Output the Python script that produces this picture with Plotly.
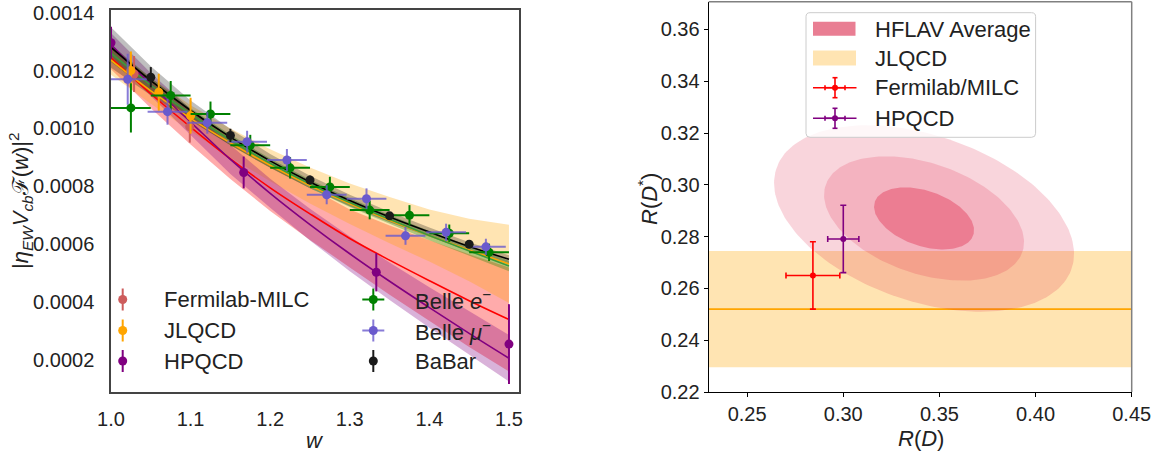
import numpy as np
import plotly.graph_objects as go

W, H = 1164, 453
FONT = "Liberation Sans, Arial, sans-serif"
FS = 22
TFS = 20

# ---------------- Left panel data ----------------
w_grid = [1.00, 1.05, 1.10, 1.15, 1.20, 1.25, 1.30, 1.35, 1.40, 1.45, 1.50]

fnal_fit = [0.001245, 0.00112, 0.001005, 0.000895, 0.000795, 0.000705, 0.000620, 0.000545, 0.000474, 0.000405, 0.000340]
fnal_err = [0.00004, 0.00005, 0.00006, 0.00007, 0.00008, 0.00009, 0.00010, 0.00012, 0.00014, 0.00016, 0.00018]

jlqcd_fit = [0.001236, 0.00113, 0.001035, 0.00095, 0.000873, 0.000803, 0.00074, 0.000683, 0.00063, 0.00058, 0.000532]
jlqcd_err = [0.00005, 0.000045, 0.000045, 0.00005, 0.000055, 0.000062, 0.00007, 0.00008, 0.00009, 0.000108, 0.000135]

hpqcd_fit = [0.00129, 0.001152, 0.001022, 0.000893, 0.000776, 0.000668, 0.000567, 0.000472, 0.000381, 0.000292, 0.000206]
hpqcd_err = [0.00004, 0.00004, 0.000045, 0.00005, 0.00005, 0.000055, 0.00006, 0.000065, 0.00007, 0.000075, 0.00008]

belle_fit = [0.00126, 0.00115, 0.00105, 0.00096, 0.00088, 0.000808, 0.000744, 0.000686, 0.00063, 0.000577, 0.000525]
belle_fit_err = [0.00003, 0.000025, 0.00002, 0.000018, 0.000016, 0.000015, 0.000015, 0.000015, 0.000016, 0.000017, 0.000018]

babar_fit = [0.00128, 0.001165, 0.001062, 0.00097, 0.000888, 0.000815, 0.000751, 0.000694, 0.000642, 0.000592, 0.000548]
babar_fit_err = [0.00007, 0.00005, 0.000035, 0.000028, 0.000024, 0.000022, 0.00002, 0.000018, 0.000016, 0.000015, 0.000014]

fnal_w = [1.029, 1.099]
fnal_v = [0.001188, 0.001006]
fnal_dv = [0.000062, 0.000055]

jlqcd_w = [1.025, 1.060, 1.100]
jlqcd_v = [0.00120, 0.001125, 0.001044]
jlqcd_dv = [0.000066, 0.000064, 0.000062]

hpqcd_w = [1.0, 1.1667, 1.3333, 1.5]
hpqcd_v = [0.001296, 0.000848, 0.000503, 0.000255]
hpqcd_dv = [0.000055, 0.000055, 0.000066, 0.000138]

belle_e_w = [1.025, 1.075, 1.125, 1.175, 1.225, 1.275, 1.325, 1.375, 1.425, 1.475]
belle_e_v = [0.001071, 0.001114, 0.00105, 0.000942, 0.000864, 0.000798, 0.000718, 0.0007, 0.000638, 0.000572]
belle_e_dv = [0.000085, 0.00005, 0.000043, 0.000036, 0.000037, 0.000035, 0.000032, 0.000035, 0.00003, 0.00003]

belle_mu_w = [1.021, 1.071, 1.121, 1.171, 1.221, 1.271, 1.321, 1.370, 1.421, 1.471]
belle_mu_v = [0.00117, 0.001058, 0.00102, 0.000954, 0.000891, 0.000771, 0.000757, 0.000629, 0.000641, 0.000591]
belle_mu_dv = [0.000088, 0.000045, 0.000038, 0.000038, 0.000038, 0.000033, 0.000036, 0.000031, 0.00003, 0.000028]
belle_dw = 0.025

babar_w = [1.05, 1.15, 1.25, 1.35, 1.45]
babar_v = [0.001177, 0.000976, 0.000822, 0.000698, 0.0006]
babar_dv = [0.000035, 0.000023, 0.000015, 0.000013, 0.000012]

w_ticks = [1.0, 1.1, 1.2, 1.3, 1.4, 1.5]
v_ticks = [0.0002, 0.0004, 0.0006, 0.0008, 0.0010, 0.0012, 0.0014]

# ---------------- Right panel data ----------------
hflav_center = (0.342, 0.287)
hflav_sigma = (0.026, 0.012)
hflav_rho = -0.38
hflav_levels = [3, 2, 1]
hflav_alpha = [0.18, 0.175, 0.34]

jlqcd_rds = 0.252
jlqcd_rds_err = 0.0224

fnal_rd, fnal_rd_err, fnal_rds, fnal_rds_err = 0.2842, 0.014, 0.265, 0.013
hpqcd_rd, hpqcd_rd_err, hpqcd_rds, hpqcd_rds_err = 0.300, 0.0081, 0.2791, 0.013

rd_ticks = [0.25, 0.30, 0.35, 0.40, 0.45]
rds_ticks = [0.22, 0.24, 0.26, 0.28, 0.30, 0.32, 0.34, 0.36]

fig = go.Figure()


def band(x, c, e, color):
    up = [a + b for a, b in zip(c, e)]
    lo = [a - b for a, b in zip(c, e)]
    fig.add_trace(go.Scatter(x=list(x) + list(x)[::-1], y=up + lo[::-1], fill="toself",
                             fillcolor=color, line=dict(width=0), mode="lines",
                             hoverinfo="skip", showlegend=False, xaxis="x", yaxis="y"))


band(w_grid, fnal_fit, fnal_err, "rgba(255,0,0,0.33)")
band(w_grid, jlqcd_fit, jlqcd_err, "rgba(255,165,0,0.3)")
band(w_grid, hpqcd_fit, hpqcd_err, "rgba(128,0,128,0.3)")
band(w_grid, belle_fit, belle_fit_err, "rgba(0,128,0,0.3)")
band(w_grid, babar_fit, babar_fit_err, "rgba(0,0,0,0.25)")

for fit, col in [(fnal_fit, "red"), (jlqcd_fit, "orange"), (hpqcd_fit, "purple"),
                 (belle_fit, "#3a9a3a"), (babar_fit, "black")]:
    fig.add_trace(go.Scatter(x=w_grid, y=fit, mode="lines", line=dict(color=col, width=1.6, shape="spline"),
                             showlegend=False, hoverinfo="skip", xaxis="x", yaxis="y"))


def pts(x, y, dy, color, dx=None, ecolor=None, axis=("x", "y"), size=9, thick=2, cap=0):
    ec = ecolor or color
    kw = {}
    if dx is not None:
        kw["error_x"] = dict(type="data", array=dx, color=ec, thickness=thick, width=cap)
    fig.add_trace(go.Scatter(x=x, y=y, mode="markers", marker=dict(color=color, size=size),
                             error_y=dict(type="data", array=dy, color=ec, thickness=thick, width=cap),
                             showlegend=False, xaxis=axis[0], yaxis=axis[1], **kw))


pts(fnal_w, fnal_v, fnal_dv, "#cd5c5c")
pts(jlqcd_w, jlqcd_v, jlqcd_dv, "orange")
pts(belle_e_w, belle_e_v, belle_e_dv, "green", dx=[belle_dw] * len(belle_e_w))
pts(belle_mu_w, belle_mu_v, belle_mu_dv, "#6a5acd", dx=[belle_dw] * len(belle_mu_w), ecolor="rgba(106,90,205,0.8)")
pts(babar_w, babar_v, babar_dv, "#1a1a1a")
pts(hpqcd_w, hpqcd_v, hpqcd_dv, "purple")

# ---------------- Right panel traces ----------------
t = np.linspace(0, 2 * np.pi, 200)
cx, cy = hflav_center
sx, sy = hflav_sigma
cov = np.array([[sx * sx, hflav_rho * sx * sy], [hflav_rho * sx * sy, sy * sy]])
vals, vecs = np.linalg.eigh(cov)
for k, a in zip(hflav_levels, hflav_alpha):
    circ = np.vstack([np.cos(t), np.sin(t)]) * (k * np.sqrt(vals))[:, None]
    pts_e = vecs @ circ
    fig.add_trace(go.Scatter(x=cx + pts_e[0], y=cy + pts_e[1], fill="toself",
                             fillcolor=f"rgba(220,20,60,{a})", line=dict(width=0), mode="lines",
                             hoverinfo="skip", showlegend=False, xaxis="x2", yaxis="y2"))

pts([fnal_rd], [fnal_rds], [fnal_rds_err], "red", dx=[fnal_rd_err], axis=("x2", "y2"), size=6, thick=1.6, cap=3)
pts([hpqcd_rd], [hpqcd_rds], [hpqcd_rds_err], "purple", dx=[hpqcd_rd_err], axis=("x2", "y2"), size=6, thick=1.6, cap=3)

shapes = []
shapes.append(dict(type="rect", xref="x2 domain", x0=0, x1=1, yref="y2",
                   y0=jlqcd_rds - jlqcd_rds_err, y1=jlqcd_rds + jlqcd_rds_err,
                   fillcolor="rgba(255,165,0,0.3)", line=dict(width=0), layer="below"))
shapes.append(dict(type="line", xref="x2 domain", x0=0, x1=1, yref="y2", y0=jlqcd_rds, y1=jlqcd_rds,
                   line=dict(color="orange", width=1.6), layer="below"))
shapes.append(dict(type="line", xref="x2 domain", x0=0, x1=1, yref="y2 domain", y0=1, y1=1,
                   line=dict(color="#808080", width=1.5)))
shapes.append(dict(type="line", xref="x2 domain", x0=1, x1=1, yref="y2 domain", y0=0, y1=1,
                   line=dict(color="#808080", width=1.5)))


def PX(x):
    return x / W


def PY(y):
    return 1 - y / H


annotations = []


def ltext(x, y, s):
    annotations.append(dict(x=PX(x), y=PY(y), xref="paper", yref="paper", text=s, showarrow=False,
                            xanchor="left", yanchor="middle", font=dict(family=FONT, size=FS, color="#222")))


def lmarker(x, y, color, v=11, h=0, r=4.5, lw=2, ecolor=None, cap=0, hline=None):
    ec = ecolor or color
    if hline:
        shapes.append(dict(type="line", xref="paper", yref="paper", x0=PX(hline[0]), x1=PX(hline[1]),
                           y0=PY(y), y1=PY(y), line=dict(color=color, width=lw)))
    if v:
        shapes.append(dict(type="line", xref="paper", yref="paper", x0=PX(x), x1=PX(x),
                           y0=PY(y - v), y1=PY(y + v), line=dict(color=ec, width=lw)))
        if cap:
            for yy in (y - v, y + v):
                shapes.append(dict(type="line", xref="paper", yref="paper", x0=PX(x - cap), x1=PX(x + cap),
                                   y0=PY(yy), y1=PY(yy), line=dict(color=ec, width=lw)))
    if h:
        shapes.append(dict(type="line", xref="paper", yref="paper", x0=PX(x - h), x1=PX(x + h),
                           y0=PY(y), y1=PY(y), line=dict(color=ec, width=lw)))
        if cap:
            for xx in (x - h, x + h):
                shapes.append(dict(type="line", xref="paper", yref="paper", x0=PX(xx), x1=PX(xx),
                                   y0=PY(y - cap), y1=PY(y + cap), line=dict(color=ec, width=lw)))
    shapes.append(dict(type="circle", xref="paper", yref="paper", xsizemode="pixel", ysizemode="pixel",
                       xanchor=PX(x), yanchor=PY(y), x0=-r, x1=r, y0=-r, y1=r,
                       fillcolor=color, line=dict(width=0)))


rows = [299.5, 330.5, 361]
lmarker(122.7, rows[0], "#cd5c5c"); ltext(161.7, rows[0], "Fermilab-MILC")
lmarker(122.7, rows[1], "orange"); ltext(161.7, rows[1], "JLQCD")
lmarker(122.7, rows[2], "purple"); ltext(161.7, rows[2], "HPQCD")
lmarker(373.3, rows[0], "green", h=11); ltext(412.7, rows[0], "Belle <i>e</i><sup>−</sup>")
lmarker(373.3, rows[1], "#6a5acd", h=11, ecolor="rgba(106,90,205,0.8)"); ltext(412.7, rows[1], "Belle <i>μ</i><sup>−</sup>")
lmarker(373.3, rows[2], "#1a1a1a"); ltext(412.7, rows[2], "BaBar")

x0, x1, y0, y1 = 806, 1035.6, 12.7, 137.3
r = 4
path = (f"M {PX(x0 + r)},{PY(y0)} L {PX(x1 - r)},{PY(y0)} Q {PX(x1)},{PY(y0)} {PX(x1)},{PY(y0 + r)} "
        f"L {PX(x1)},{PY(y1 - r)} Q {PX(x1)},{PY(y1)} {PX(x1 - r)},{PY(y1)} "
        f"L {PX(x0 + r)},{PY(y1)} Q {PX(x0)},{PY(y1)} {PX(x0)},{PY(y1 - r)} "
        f"L {PX(x0)},{PY(y0 + r)} Q {PX(x0)},{PY(y0)} {PX(x0 + r)},{PY(y0)} Z")
shapes.append(dict(type="path", xref="paper", yref="paper", path=path,
                   fillcolor="rgba(255,255,255,0.8)", line=dict(color="#cccccc", width=1)))
shapes.append(dict(type="rect", xref="paper", yref="paper", x0=PX(813), x1=PX(855.5), y0=PY(21.7), y1=PY(35.7),
                   fillcolor="rgb(233,126,147)", line=dict(width=0)))
shapes.append(dict(type="rect", xref="paper", yref="paper", x0=PX(813), x1=PX(856), y0=PY(50.5), y1=PY(65.5),
                   fillcolor="rgba(255,165,0,0.3)", line=dict(width=0)))
ltext(873, 29.3, "HFLAV Average")
ltext(873, 58.3, "JLQCD")
lmarker(835, 87.7, "red", v=10, h=10, r=3, lw=1.6, cap=2.5, hline=(813, 856.5))
ltext(873, 87.7, "Fermilab/MILC")
lmarker(835, 118.3, "purple", v=10, h=10, r=3, lw=1.6, cap=2.5, hline=(813, 856.5))
ltext(873, 118.3, "HPQCD")


def title(x, y, s, angle=0):
    annotations.append(dict(x=PX(x), y=PY(y), xref="paper", yref="paper", textangle=angle, showarrow=False,
                            xanchor="center", yanchor="middle", text=s,
                            font=dict(family=FONT, size=FS, color="#222")))


title(20, 201, "|<i>η</i><sub><i>EW</i></sub><i>V</i><sub><i>cb</i></sub>ℱ(<i>w</i>)|<sup>2</sup>", -90)
title(315, 440, "<i>w</i>")
title(648, 199, "<i>R</i>(<i>D</i><sup>*</sup>)", -90)
title(920.5, 438, "<i>R</i>(<i>D</i>)")

tickfont = dict(family=FONT, size=TFS, color="#222")
fig.update_layout(
    width=W, height=H, autosize=False, margin=dict(l=0, r=0, t=0, b=0, pad=0, autoexpand=False),
    font=dict(family=FONT, size=FS, color="#222"),
    paper_bgcolor="white", plot_bgcolor="white", showlegend=False,
    shapes=shapes, annotations=annotations,
    xaxis=dict(domain=[111 / W, 519 / W], range=[1.0, 1.5126], tickvals=w_ticks, automargin=False,
               ticktext=[f"{v:.1f}" for v in w_ticks], showgrid=False, zeroline=False,
               showline=True, mirror=True, linecolor="#444", linewidth=1.5,
               ticks="outside", ticklen=8, tickcolor="rgba(0,0,0,0)", tickfont=tickfont, anchor="y"),
    yaxis=dict(domain=[1 - 392 / H, 1 - 10 / H], range=[0.0000894, 0.0014093], tickvals=v_ticks, automargin=False,
               ticktext=[f"{v:.4f}" for v in v_ticks], showgrid=False, zeroline=False,
               showline=True, mirror=True, linecolor="#444", linewidth=1.5,
               ticks="outside", ticklen=11, tickcolor="rgba(0,0,0,0)", tickfont=tickfont, anchor="x"),
    xaxis2=dict(domain=[708.7 / W, 1131.7 / W], range=[0.23, 0.45], tickvals=rd_ticks, automargin=False,
                ticktext=[f"{v:.2f}" for v in rd_ticks], showgrid=False, zeroline=False,
                showline=True, linecolor="black", linewidth=1.2,
                ticks="outside", ticklen=4, tickcolor="black", tickfont=tickfont, anchor="y2"),
    yaxis2=dict(domain=[1 - 392 / H, 1 - 1.7 / H], range=[0.22, 0.3707], tickvals=rds_ticks, automargin=False,
                ticktext=[f"{v:.2f}" for v in rds_ticks], showgrid=False, zeroline=False,
                showline=True, linecolor="black", linewidth=1.2,
                ticks="outside", ticklen=4, tickcolor="black", tickfont=tickfont, anchor="x2"),
)

fig.write_html("out.html", config={"displayModeBar": False},
               post_script="document.body.style.margin='0';document.body.style.overflow='hidden';")
